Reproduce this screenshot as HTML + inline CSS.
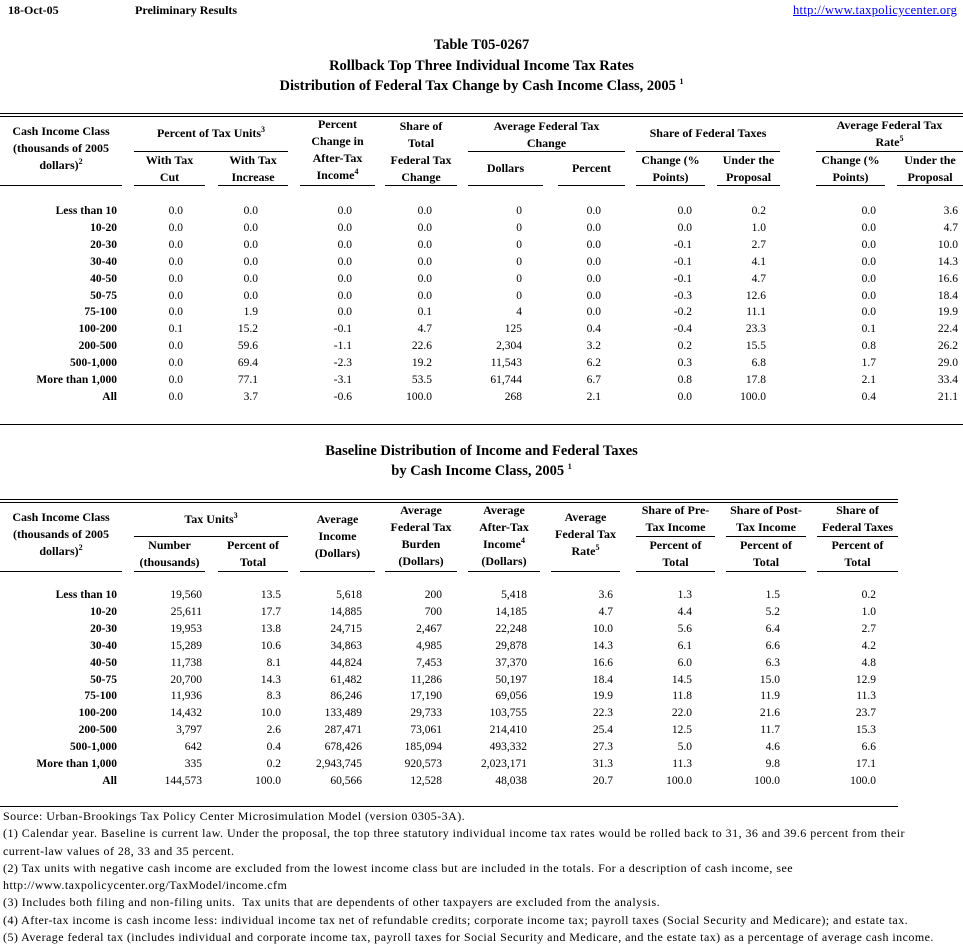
<!DOCTYPE html>
<html><head><meta charset="utf-8"><style>
body{margin:0;width:963px;height:945px;background:#fff;position:relative;font-family:"Liberation Serif",serif;color:#000;overflow:hidden}
.a{position:absolute;white-space:nowrap}
.b{font-weight:bold;font-size:12px;line-height:17px;text-align:center}
.col{position:absolute;font-size:11.5px;line-height:16.9px;text-align:right;white-space:nowrap}
.lab{font-weight:bold}
.h{position:absolute;height:1px;background:#000}
.t{font-weight:bold;font-size:14.5px;text-align:center;width:963px;left:0}
.fn{position:absolute;left:3px;font-size:12px;letter-spacing:0.45px;line-height:17.3px;white-space:nowrap}
sup{font-size:8px;line-height:0}
</style></head><body>
<div class="a" style="left:8px;top:3px;font-size:12px;font-weight:bold">18-Oct-05</div>
<div class="a" style="left:135px;top:3px;font-size:12px;font-weight:bold">Preliminary Results</div>
<div class="a" style="left:793px;top:3px;font-size:12.5px;letter-spacing:0.3px;color:#00f;text-decoration:underline">http://www.taxpolicycenter.org</div>
<div class="a t" style="top:37px">Table T05-0267</div>
<div class="a t" style="top:58px">Rollback Top Three Individual Income Tax Rates</div>
<div class="a t" style="top:78px">Distribution of Federal Tax Change by Cash Income Class, 2005 <sup>1</sup></div>
<div class="h" style="left:0;width:963px;top:113px"></div><div class="h" style="left:0;width:963px;top:116px"></div>
<div class="a b" style="left:0;width:122px;top:123px">Cash Income Class<br>(thousands of 2005<br>dollars)<sup>2</sup></div>
<div class="a b" style="left:134px;width:154px;top:125px">Percent of Tax Units<sup>3</sup></div>
<div class="h" style="left:134px;width:154px;top:151px"></div>
<div class="a b" style="left:134px;width:71px;top:152px">With Tax<br>Cut</div>
<div class="a b" style="left:218px;width:70px;top:152px">With Tax<br>Increase</div>
<div class="a b" style="left:300px;width:75px;top:116px">Percent<br>Change in<br>After-Tax<br>Income<sup>4</sup></div>
<div class="a b" style="left:385px;width:72px;top:118px">Share of<br>Total<br>Federal Tax<br>Change</div>
<div class="a b" style="left:468px;width:157px;top:118px">Average Federal Tax<br>Change</div>
<div class="h" style="left:468px;width:157px;top:151px"></div>
<div class="a b" style="left:468px;width:75px;top:160px">Dollars</div>
<div class="a b" style="left:558px;width:67px;top:160px">Percent</div>
<div class="a b" style="left:636px;width:144px;top:125px">Share of Federal Taxes</div>
<div class="h" style="left:636px;width:144px;top:151px"></div>
<div class="a b" style="left:636px;width:69px;top:152px">Change (%<br>Points)</div>
<div class="a b" style="left:717px;width:63px;top:152px">Under the<br>Proposal</div>
<div class="a b" style="left:816px;width:147px;top:117px">Average Federal Tax<br>Rate<sup>5</sup></div>
<div class="h" style="left:816px;width:147px;top:151px"></div>
<div class="a b" style="left:816px;width:69px;top:152px">Change (%<br>Points)</div>
<div class="a b" style="left:897px;width:66px;top:152px">Under the<br>Proposal</div>
<div class="h" style="left:0;width:122px;top:185px"></div>
<div class="h" style="left:134px;width:71px;top:185px"></div>
<div class="h" style="left:218px;width:70px;top:185px"></div>
<div class="h" style="left:300px;width:75px;top:185px"></div>
<div class="h" style="left:385px;width:72px;top:185px"></div>
<div class="h" style="left:468px;width:75px;top:185px"></div>
<div class="h" style="left:558px;width:67px;top:185px"></div>
<div class="h" style="left:636px;width:69px;top:185px"></div>
<div class="h" style="left:717px;width:63px;top:185px"></div>
<div class="h" style="left:816px;width:69px;top:185px"></div>
<div class="h" style="left:897px;width:66px;top:185px"></div>
<div class="col lab" style="right:846px;top:203px">Less than 10<br>10-20<br>20-30<br>30-40<br>40-50<br>50-75<br>75-100<br>100-200<br>200-500<br>500-1,000<br>More than 1,000<br>All</div>
<div class="col" style="right:780px;top:203px">0.0<br>0.0<br>0.0<br>0.0<br>0.0<br>0.0<br>0.0<br>0.1<br>0.0<br>0.0<br>0.0<br>0.0</div>
<div class="col" style="right:705px;top:203px">0.0<br>0.0<br>0.0<br>0.0<br>0.0<br>0.0<br>1.9<br>15.2<br>59.6<br>69.4<br>77.1<br>3.7</div>
<div class="col" style="right:611px;top:203px">0.0<br>0.0<br>0.0<br>0.0<br>0.0<br>0.0<br>0.0<br>-0.1<br>-1.1<br>-2.3<br>-3.1<br>-0.6</div>
<div class="col" style="right:531px;top:203px">0.0<br>0.0<br>0.0<br>0.0<br>0.0<br>0.0<br>0.1<br>4.7<br>22.6<br>19.2<br>53.5<br>100.0</div>
<div class="col" style="right:441px;top:203px">0<br>0<br>0<br>0<br>0<br>0<br>4<br>125<br>2,304<br>11,543<br>61,744<br>268</div>
<div class="col" style="right:362px;top:203px">0.0<br>0.0<br>0.0<br>0.0<br>0.0<br>0.0<br>0.0<br>0.4<br>3.2<br>6.2<br>6.7<br>2.1</div>
<div class="col" style="right:271px;top:203px">0.0<br>0.0<br>-0.1<br>-0.1<br>-0.1<br>-0.3<br>-0.2<br>-0.4<br>0.2<br>0.3<br>0.8<br>0.0</div>
<div class="col" style="right:197px;top:203px">0.2<br>1.0<br>2.7<br>4.1<br>4.7<br>12.6<br>11.1<br>23.3<br>15.5<br>6.8<br>17.8<br>100.0</div>
<div class="col" style="right:87px;top:203px">0.0<br>0.0<br>0.0<br>0.0<br>0.0<br>0.0<br>0.0<br>0.1<br>0.8<br>1.7<br>2.1<br>0.4</div>
<div class="col" style="right:5px;top:203px">3.6<br>4.7<br>10.0<br>14.3<br>16.6<br>18.4<br>19.9<br>22.4<br>26.2<br>29.0<br>33.4<br>21.1</div>
<div class="h" style="left:0;width:963px;top:424px"></div>
<div class="a t" style="top:443px">Baseline Distribution of Income and Federal Taxes</div>
<div class="a t" style="top:463px">by Cash Income Class, 2005 <sup>1</sup></div>
<div class="h" style="left:0;width:898px;top:499px"></div><div class="h" style="left:0;width:898px;top:502px"></div>
<div class="a b" style="left:0;width:122px;top:509px">Cash Income Class<br>(thousands of 2005<br>dollars)<sup>2</sup></div>
<div class="a b" style="left:134px;width:154px;top:511px">Tax Units<sup>3</sup></div>
<div class="h" style="left:134px;width:154px;top:536px"></div>
<div class="a b" style="left:134px;width:71px;top:537px">Number<br>(thousands)</div>
<div class="a b" style="left:218px;width:70px;top:537px">Percent of<br>Total</div>
<div class="a b" style="left:300px;width:75px;top:511px">Average<br>Income<br>(Dollars)</div>
<div class="a b" style="left:385px;width:72px;top:502px">Average<br>Federal Tax<br>Burden<br>(Dollars)</div>
<div class="a b" style="left:468px;width:72px;top:502px">Average<br>After-Tax<br>Income<sup>4</sup><br>(Dollars)</div>
<div class="a b" style="left:551px;width:69px;top:509px">Average<br>Federal Tax<br>Rate<sup>5</sup></div>
<div class="a b" style="left:636px;width:79px;top:502px">Share of Pre-<br>Tax Income</div>
<div class="a b" style="left:726px;width:80px;top:502px">Share of Post-<br>Tax Income</div>
<div class="a b" style="left:817px;width:81px;top:502px">Share of<br>Federal Taxes</div>
<div class="h" style="left:636px;width:79px;top:536px"></div>
<div class="h" style="left:726px;width:80px;top:536px"></div>
<div class="h" style="left:817px;width:81px;top:536px"></div>
<div class="a b" style="left:636px;width:79px;top:537px">Percent of<br>Total</div>
<div class="a b" style="left:726px;width:80px;top:537px">Percent of<br>Total</div>
<div class="a b" style="left:817px;width:81px;top:537px">Percent of<br>Total</div>
<div class="h" style="left:0;width:122px;top:571px"></div>
<div class="h" style="left:134px;width:71px;top:571px"></div>
<div class="h" style="left:218px;width:70px;top:571px"></div>
<div class="h" style="left:300px;width:75px;top:571px"></div>
<div class="h" style="left:385px;width:72px;top:571px"></div>
<div class="h" style="left:468px;width:72px;top:571px"></div>
<div class="h" style="left:551px;width:69px;top:571px"></div>
<div class="h" style="left:636px;width:79px;top:571px"></div>
<div class="h" style="left:726px;width:80px;top:571px"></div>
<div class="h" style="left:817px;width:81px;top:571px"></div>
<div class="col lab" style="right:846px;top:587px">Less than 10<br>10-20<br>20-30<br>30-40<br>40-50<br>50-75<br>75-100<br>100-200<br>200-500<br>500-1,000<br>More than 1,000<br>All</div>
<div class="col" style="right:761px;top:587px">19,560<br>25,611<br>19,953<br>15,289<br>11,738<br>20,700<br>11,936<br>14,432<br>3,797<br>642<br>335<br>144,573</div>
<div class="col" style="right:682px;top:587px">13.5<br>17.7<br>13.8<br>10.6<br>8.1<br>14.3<br>8.3<br>10.0<br>2.6<br>0.4<br>0.2<br>100.0</div>
<div class="col" style="right:601px;top:587px">5,618<br>14,885<br>24,715<br>34,863<br>44,824<br>61,482<br>86,246<br>133,489<br>287,471<br>678,426<br>2,943,745<br>60,566</div>
<div class="col" style="right:521px;top:587px">200<br>700<br>2,467<br>4,985<br>7,453<br>11,286<br>17,190<br>29,733<br>73,061<br>185,094<br>920,573<br>12,528</div>
<div class="col" style="right:436px;top:587px">5,418<br>14,185<br>22,248<br>29,878<br>37,370<br>50,197<br>69,056<br>103,755<br>214,410<br>493,332<br>2,023,171<br>48,038</div>
<div class="col" style="right:350px;top:587px">3.6<br>4.7<br>10.0<br>14.3<br>16.6<br>18.4<br>19.9<br>22.3<br>25.4<br>27.3<br>31.3<br>20.7</div>
<div class="col" style="right:271px;top:587px">1.3<br>4.4<br>5.6<br>6.1<br>6.0<br>14.5<br>11.8<br>22.0<br>12.5<br>5.0<br>11.3<br>100.0</div>
<div class="col" style="right:183px;top:587px">1.5<br>5.2<br>6.4<br>6.6<br>6.3<br>15.0<br>11.9<br>21.6<br>11.7<br>4.6<br>9.8<br>100.0</div>
<div class="col" style="right:87px;top:587px">0.2<br>1.0<br>2.7<br>4.2<br>4.8<br>12.9<br>11.3<br>23.7<br>15.3<br>6.6<br>17.1<br>100.0</div>
<div class="h" style="left:0;width:898px;top:806px"></div>
<div class="fn" style="top:808px">Source: Urban-Brookings Tax Policy Center Microsimulation Model (version 0305-3A).<br>(1) Calendar year. Baseline is current law. Under the proposal, the top three statutory individual income tax rates would be rolled back to 31, 36 and 39.6 percent from their<br>current-law values of 28, 33 and 35 percent.<br>(2) Tax units with negative cash income are excluded from the lowest income class but are included in the totals. For a description of cash income, see<br>http://www.taxpolicycenter.org/TaxModel/income.cfm<br>(3) Includes both filing and non-filing units.&nbsp; Tax units that are dependents of other taxpayers are excluded from the analysis.<br>(4) After-tax income is cash income less: individual income tax net of refundable credits; corporate income tax; payroll taxes (Social Security and Medicare); and estate tax.<br>(5) Average federal tax (includes individual and corporate income tax, payroll taxes for Social Security and Medicare, and the estate tax) as a percentage of average cash income.</div>
</body></html>
